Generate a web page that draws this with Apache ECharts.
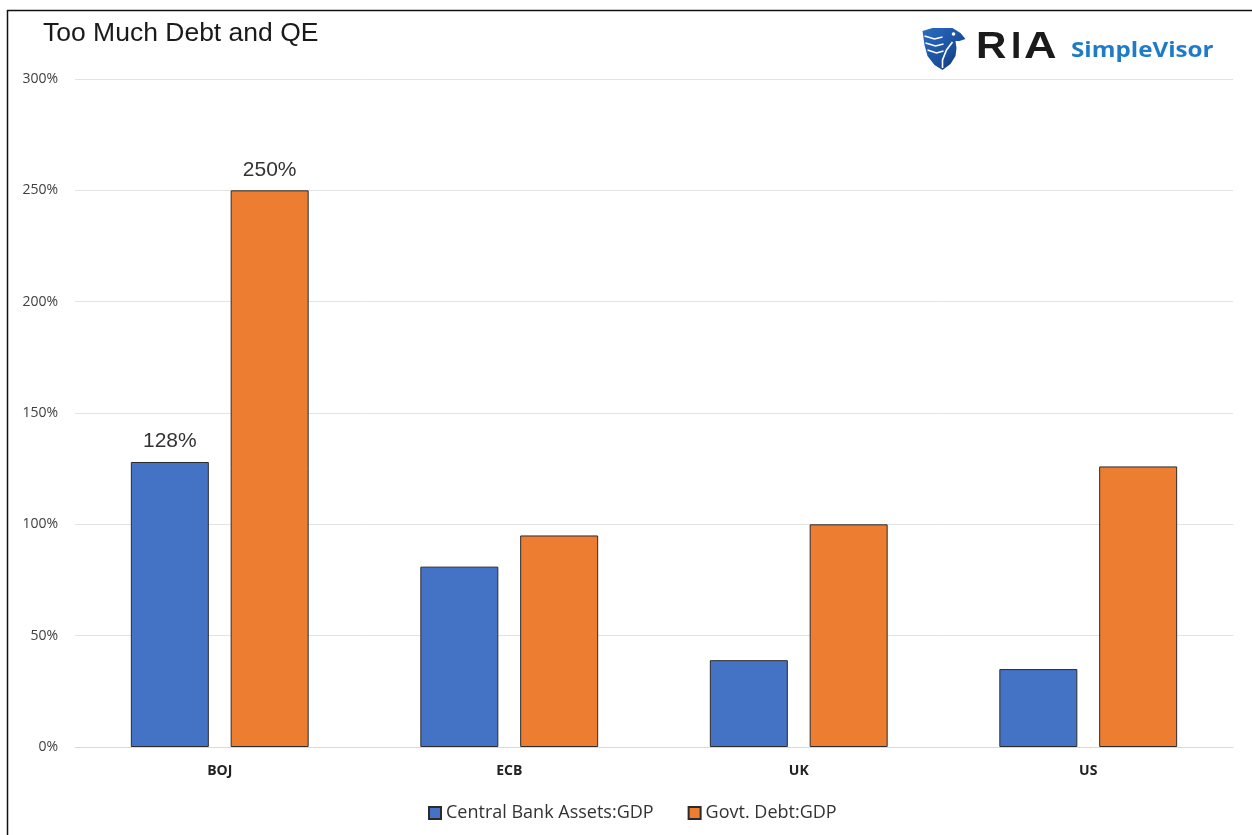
<!DOCTYPE html>
<html>
<head>
<meta charset="utf-8">
<script src="https://cdn.jsdelivr.net/npm/echarts@6/dist/echarts.min.js"></script>
<style>
  html, body { margin: 0; padding: 0; background: #fff; }
  #chart { width: 1252px; height: 835px; }
</style>
</head>
<body>
<div id="chart"></div>
<script>
// Central bank balance sheets and government debt, as a share of GDP
const categories = ['BOJ', 'ECB', 'UK', 'US'];
const centralBankAssets = [128, 81, 39, 35];
const govtDebt = [250, 95, 100, 126];
const labelledCategory = 'BOJ';
const yTicks = [0, 50, 100, 150, 200, 250, 300];

const chart = echarts.init(document.getElementById('chart'));

const valueLabel = {
  show: true,
  position: 'top',
  distance: 10,
  fontFamily: 'Liberation Sans, Arial, sans-serif',
  fontSize: 21,
  color: '#333',
  formatter: p => p.name === labelledCategory ? p.value + '%' : ''
};

// brand wordmark letters, placed one by one (wide geometric look)
const wordmark = {
  type: 'group',
  left: 976,
  top: 29,
  children: [
    { ch: 'R', x: 0, sx: 1.14 },
    { ch: 'I', x: 35, sx: 1 },
    { ch: 'A', x: 48, sx: 1.22 }
  ].map(l => ({
    type: 'text',
    x: l.x,
    y: 0,
    scaleX: l.sx,
    style: {
      text: l.ch,
      fontFamily: 'Liberation Sans, Arial, sans-serif',
      fontWeight: 'bold',
      fontSize: 37,
      fill: '#1b1b1b'
    }
  }))
};

chart.setOption({
  animation: false,
  backgroundColor: '#fff',
  title: {
    text: 'Too Much Debt and QE',
    left: 38,
    top: 15,
    textStyle: {
      fontFamily: 'Liberation Sans, Arial, sans-serif',
      fontWeight: 'normal',
      fontSize: 26.5,
      color: '#1a1a1a'
    }
  },
  legend: {
    bottom: 8,
    left: 423,
    itemWidth: 12,
    itemHeight: 12,
    itemGap: 34,
    icon: 'rect',
    textStyle: {
      fontFamily: 'Open Sans, Noto Sans, sans-serif',
      fontSize: 18,
      color: '#333'
    },
    data: ['Central Bank Assets:GDP', 'Govt. Debt:GDP']
  },
  grid: {
    left: 75,
    right: 19,
    top: 79,
    bottom: 88,
    containLabel: false
  },
  xAxis: {
    type: 'category',
    data: categories,
    axisLine: { show: true, lineStyle: { color: '#d9d9d9', width: 1 } },
    axisTick: { show: false },
    axisLabel: {
      margin: 17,
      fontFamily: 'Open Sans, Noto Sans, sans-serif',
      fontWeight: 'bold',
      fontSize: 14,
      color: '#222'
    }
  },
  yAxis: {
    type: 'value',
    min: 0,
    max: 300,
    interval: 50,
    axisLine: { show: false },
    axisTick: { show: false },
    splitLine: { lineStyle: { color: '#e3e3e3', width: 1 } },
    axisLabel: {
      margin: 17,
      fontFamily: 'Open Sans, Noto Sans, sans-serif',
      fontSize: 14,
      color: '#404040',
      formatter: v => (yTicks.indexOf(v) >= 0 ? v + '%' : '')
    }
  },
  series: [
    {
      name: 'Central Bank Assets:GDP',
      type: 'bar',
      data: centralBankAssets,
      barWidth: 78,
      barGap: '28%',
      itemStyle: { color: '#4472c4', borderColor: '#2b2b2b', borderWidth: 1 },
      label: valueLabel
    },
    {
      name: 'Govt. Debt:GDP',
      type: 'bar',
      data: govtDebt,
      barWidth: 78,
      itemStyle: { color: '#ed7d31', borderColor: '#2b2b2b', borderWidth: 1 },
      label: valueLabel
    }
  ],
  graphic: [
    // frame edges
    { type: 'line', shape: { x1: 7, y1: 10.5, x2: 1252, y2: 10.5 }, style: { stroke: '#111', lineWidth: 1.5 } },
    { type: 'line', shape: { x1: 7.5, y1: 10, x2: 7.5, y2: 835 }, style: { stroke: '#111', lineWidth: 1.5 } },
    // eagle shield mark
    {
      type: 'group',
      left: 922,
      top: 28,
      children: [
        {
          type: 'polygon',
          shape: {
            points: [[0, 3], [10, 0], [30, 0], [38, 5], [43, 11], [37, 13], [33, 13],
                     [34, 20], [33, 28], [28, 36], [20, 42], [12, 37], [5, 28], [2, 17]]
          },
          style: {
            fill: new echarts.graphic.LinearGradient(0, 0, 1, 1, [
              { offset: 0, color: '#2a6cc4' },
              { offset: 0.6, color: '#1b4f9c' },
              { offset: 1, color: '#0d2c63' }
            ])
          }
        },
        { type: 'polyline', shape: { points: [[2, 8], [12, 11], [20, 9]] }, style: { stroke: '#fff', lineWidth: 1.4, fill: null } },
        { type: 'polyline', shape: { points: [[3, 15], [13, 18], [21, 16]] }, style: { stroke: '#fff', lineWidth: 1.4, fill: null } },
        { type: 'polyline', shape: { points: [[5, 22], [14, 25], [21, 23]] }, style: { stroke: '#fff', lineWidth: 1.4, fill: null } },
        { type: 'polyline', shape: { points: [[30, 14], [24, 22], [20, 32], [20, 40]] }, style: { stroke: '#fff', lineWidth: 1.6, fill: null } },
        { type: 'circle', shape: { cx: 31, cy: 6, r: 1.8 }, style: { fill: '#fff' } }
      ]
    },
    wordmark,
    {
      type: 'text',
      x: 1071,
      y: 40,
      scaleX: 1.1,
      style: {
        text: 'SimpleVisor',
        fontFamily: 'Open Sans, Noto Sans, sans-serif',
        fontWeight: 'bold',
        fontSize: 22,
        fill: '#1f7bc8'
      }
    }
  ]
});
</script>
</body>
</html>
